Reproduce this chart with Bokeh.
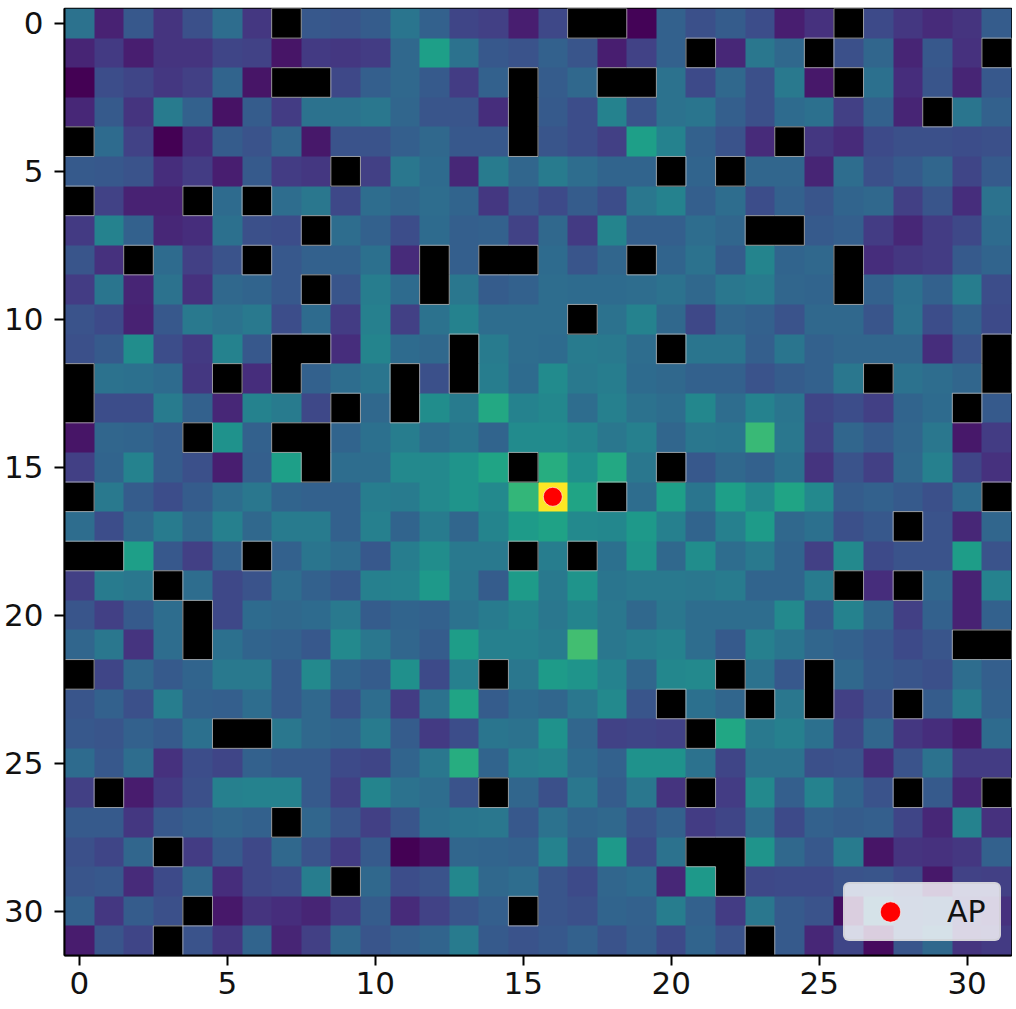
import math
import numpy as np
from bokeh.embed import file_html
from bokeh.models import ColumnDataSource, FixedTicker, Legend, LegendItem, LinearColorMapper
from bokeh.palettes import Viridis256
from bokeh.plotting import figure
from bokeh.resources import INLINE

N = math.nan
cell_rows = [
    [40,10,29,16,26,38,17,N,29,28,31,41,33,22,20,9,23,N,N,1,33,26,31,25,9,15,N,24,17,13,16,31],
    [11,18,9,16,16,22,21,6,18,17,19,36,60,40,29,27,33,28,9,21,33,N,12,42,36,N,26,35,11,29,15,N],
    [0,25,22,17,20,34,6,N,N,23,32,36,30,19,33,N,31,36,N,N,40,24,36,26,43,7,N,39,14,28,11,29],
    [12,30,16,44,33,5,31,19,40,40,42,35,28,28,14,N,30,25,47,27,40,41,32,26,37,39,20,33,11,N,41,33],
    [N,37,21,0,14,31,27,35,7,27,27,32,36,29,29,N,28,25,20,60,47,33,27,13,N,17,13,24,26,26,25,26],
    [30,29,27,14,19,9,30,19,17,N,20,42,37,12,44,35,44,38,34,34,N,34,N,35,35,11,38,26,30,35,22,30],
    [N,21,10,10,N,37,N,38,42,23,38,35,38,34,17,29,24,31,25,42,47,32,38,25,33,28,34,36,20,28,14,40],
    [18,47,33,12,14,39,26,25,N,38,33,25,37,32,33,21,36,18,48,32,32,38,35,N,N,30,32,19,12,19,23,37],
    [28,15,N,37,20,27,N,29,33,33,39,13,N,32,N,N,37,28,35,N,34,40,31,48,34,36,N,14,17,19,30,34],
    [19,41,11,40,15,36,34,29,N,28,45,37,N,42,31,33,38,37,37,38,40,36,42,44,35,34,N,33,39,33,45,25],
    [27,24,10,29,43,40,43,25,37,19,46,20,40,47,38,38,38,N,40,47,36,23,35,33,27,36,36,28,40,25,33,24],
    [26,30,52,25,18,47,29,N,N,14,48,37,36,N,44,38,37,44,43,38,N,41,41,32,41,33,35,35,35,14,27,N],
    [N,40,39,37,17,N,14,N,33,38,41,N,26,N,45,37,51,43,45,37,36,33,33,27,31,33,42,N,40,38,35,N],
    [N,25,25,44,33,12,47,44,23,N,36,N,52,44,64,47,49,38,46,40,38,49,38,47,41,22,25,20,34,37,N,30],
    [6,35,34,31,N,54,33,N,N,34,39,45,38,41,34,51,51,48,42,46,35,42,41,72,42,21,35,30,35,42,7,19],
    [20,34,47,31,26,9,32,60,N,38,38,50,50,55,62,N,66,53,64,42,N,29,36,33,39,16,27,20,36,46,22,15],
    [N,43,31,25,31,38,42,34,33,33,45,44,50,55,50,70,106,62,N,38,60,41,60,50,62,50,31,33,30,26,37,N],
    [38,25,36,44,36,46,36,44,44,33,46,34,44,35,48,58,61,50,49,57,46,34,46,58,36,39,26,29,N,27,12,35],
    [N,N,60,29,20,33,N,33,41,38,29,45,52,43,43,N,45,N,39,55,36,52,38,43,34,20,50,24,27,27,59,27],
    [20,44,42,N,38,23,27,38,33,29,46,47,57,42,31,58,43,55,41,43,43,42,44,34,34,44,N,14,N,35,10,47],
    [28,20,30,38,N,23,37,36,37,43,31,34,33,40,44,48,42,48,42,36,42,38,38,38,50,30,47,35,20,33,10,33],
    [35,42,16,38,N,39,34,33,29,50,42,35,31,59,46,46,44,74,42,45,47,38,30,46,41,35,33,29,24,28,N,N],
    [N,22,36,30,34,43,43,30,50,34,31,53,24,46,N,42,58,55,47,35,49,50,N,40,29,N,36,30,28,26,38,32],
    [28,33,26,45,33,32,38,30,36,26,38,19,40,62,31,37,35,42,50,28,N,39,35,N,42,N,20,27,N,31,44,33],
    [29,28,33,30,39,N,N,42,36,34,44,31,18,25,41,40,54,35,21,22,21,N,63,43,46,39,23,35,17,14,8,37],
    [37,29,38,15,25,22,33,30,30,24,22,34,42,66,34,46,48,37,33,54,54,40,22,40,40,26,27,13,27,40,19,19],
    [20,N,8,18,26,46,47,47,30,20,48,40,38,27,N,35,26,42,31,42,16,N,19,50,32,47,34,27,N,30,12,N],
    [30,30,17,29,32,35,33,N,35,28,20,28,39,41,42,29,40,34,36,27,33,19,22,38,24,33,31,32,22,12,47,15],
    [26,22,35,N,19,30,23,36,27,19,30,0,4,35,34,33,47,31,57,24,40,N,N,55,36,29,44,6,16,15,17,33],
    [28,29,13,24,36,14,23,25,45,N,36,25,27,49,36,38,28,24,35,37,12,57,N,23,24,24,27,28,24,7,21,20],
    [33,17,31,26,N,7,16,14,11,19,31,13,21,28,32,N,28,26,34,33,45,33,19,42,30,27,4,38,28,30,17,15],
    [8,28,22,N,27,17,34,11,20,36,28,32,34,44,30,27,29,33,27,32,24,34,27,N,30,12,22,3,28,36,16,18],
]
tick_values = [0, 5, 10, 15, 20, 25, 30]
ap_x = [16]
ap_y = [16]
legend_label = "AP"

grid = np.array(cell_rows, dtype=float)
assert grid.shape == (32, 32)
n = grid.shape[0]

p = figure(width=1012, height=1008, x_range=(-0.5, n - 0.5), y_range=(n - 0.5, -0.5),
           output_backend="svg", toolbar_location=None,
           min_border_left=64, min_border_right=1, min_border_top=8, min_border_bottom=53,
           background_fill_color="white", border_fill_color="white")
p.grid.visible = False

mapper = LinearColorMapper(palette=Viridis256, low=0, high=106, nan_color="black")
p.image(image=[grid], x=-0.5, y=-0.5, dw=n, dh=n, color_mapper=mapper)

# pale hairlines where a missing cell meets a valued one
x0, y0, x1, y1 = [], [], [], []
for r in range(n):
    for c in range(n):
        if not np.isnan(grid[r, c]):
            continue
        if r == 0 or not np.isnan(grid[r - 1, c]):
            x0.append(c - .5); x1.append(c + .5); y0.append(r - .5); y1.append(r - .5)
        if r == n - 1 or not np.isnan(grid[r + 1, c]):
            x0.append(c - .5); x1.append(c + .5); y0.append(r + .5); y1.append(r + .5)
        if c == 0 or not np.isnan(grid[r, c - 1]):
            x0.append(c - .5); x1.append(c - .5); y0.append(r - .5); y1.append(r + .5)
        if c == n - 1 or not np.isnan(grid[r, c + 1]):
            x0.append(c + .5); x1.append(c + .5); y0.append(r - .5); y1.append(r + .5)
p.segment(x0, y0, x1, y1, line_color="#c4c4c4", line_width=1, line_alpha=0.75)

src = ColumnDataSource(dict(x=ap_x, y=ap_y))
dot = p.scatter("x", "y", source=src, size=19, marker="circle", fill_color="#ff0000",
                line_color="white", line_alpha=0.6, line_width=1)

for ax in (p.xaxis[0], p.yaxis[0]):
    ax.ticker = FixedTicker(ticks=tick_values)
    ax.major_label_text_font = "DejaVu Sans"
    ax.major_label_text_font_size = "31px"
    ax.major_label_text_color = "#111111"
    ax.axis_line_color = "black"
    ax.axis_line_width = 2
    ax.major_tick_line_color = "black"
    ax.major_tick_line_width = 2
    ax.major_tick_in = 0
    ax.major_tick_out = 10
    ax.minor_tick_line_color = None
p.xaxis[0].major_label_standoff = 6
p.yaxis[0].major_label_standoff = 11
p.outline_line_color = "black"
p.outline_line_width = 1.5

legend = Legend(items=[LegendItem(label=legend_label, renderers=[dot])],
                location=(779, 14), padding=2, margin=0, glyph_width=86, glyph_height=51,
                label_standoff=14, label_width=50, label_text_font="DejaVu Sans",
                label_text_font_size="30px", label_text_color="#111111",
                background_fill_color="white", background_fill_alpha=0.8,
                border_line_color="#cccccc", border_line_width=2, border_radius=6)
p.add_layout(legend)

open("out.html", "w").write(file_html(p, INLINE))
